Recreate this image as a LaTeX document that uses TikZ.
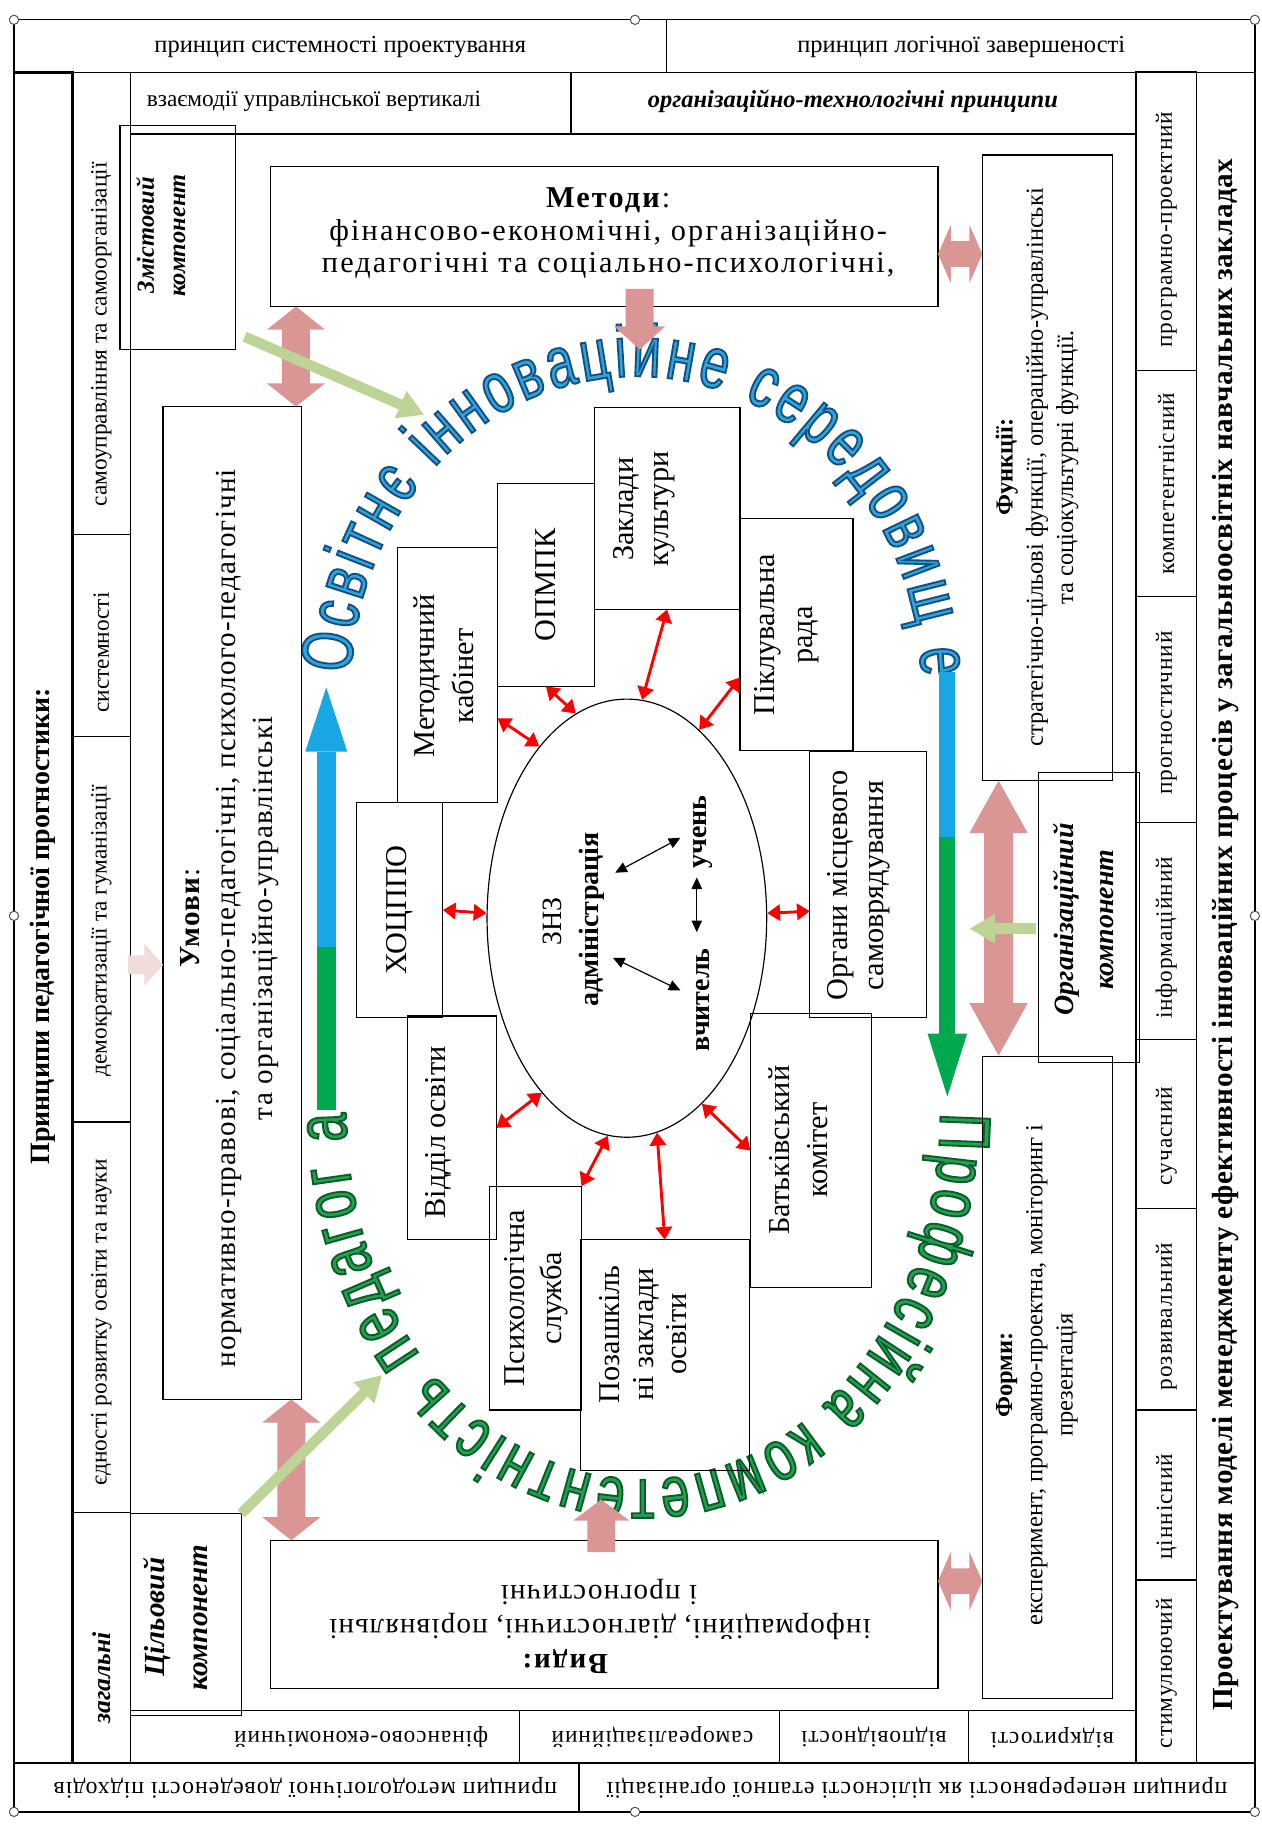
\documentclass[tikz,border=0pt]{standalone}
\usepackage{fontspec}
\setmainfont{Liberation Serif}
\newfontfamily\lsfont[LetterSpace=7]{Liberation Serif}
\newfontfamily\lsfontb[LetterSpace=4]{Liberation Serif}
\newfontfamily\lsfontc[LetterSpace=2]{Liberation Serif}
\newfontfamily\arcfont[FakeStretch=0.70]{Liberation Sans}
\usetikzlibrary{shapes.geometric,arrows.meta,decorations.text,calc}
\definecolor{pinkA}{RGB}{217,150,148}
\definecolor{pinkL}{RGB}{242,220,219}
\definecolor{greenL}{RGB}{190,212,150}
\definecolor{blueA}{RGB}{24,166,228}
\definecolor{greenA}{RGB}{0,168,80}
\definecolor{arcBlueF}{RGB}{45,165,220}
\definecolor{arcGreenF}{RGB}{35,160,80}
\newcommand\fsz[2]{\fontsize{#1}{#2}\selectfont}
\newcommand\outlB{\special{pdf:literal direct 2 Tr 1.6 w 0.08 0.31 0.51 RG}}
\newcommand\outlG{\special{pdf:literal direct 2 Tr 1.6 w 0.04 0.36 0.16 RG}}
% vertical double block arrow: x, ytop, ybottom, shaft half, head half, head length, style
\newcommand\vdarr[7]{\fill[#7] ({#1-#4},{#2+#6}) -- ({#1-#5},{#2+#6}) -- (#1,#2) -- ({#1+#5},{#2+#6}) -- ({#1+#4},{#2+#6}) -- ({#1+#4},{#3-#6}) -- ({#1+#5},{#3-#6}) -- (#1,#3) -- ({#1-#5},{#3-#6}) -- ({#1-#4},{#3-#6}) -- cycle;}
% horizontal double block arrow: y, xleft, xright, shaft half, head half, head length, style
\newcommand\hdarr[7]{\fill[#7] ({#2+#6},{#1-#4}) -- ({#2+#6},{#1-#5}) -- (#2,#1) -- ({#2+#6},{#1+#5}) -- ({#2+#6},{#1+#4}) -- ({#3-#6},{#1+#4}) -- ({#3-#6},{#1+#5}) -- (#3,#1) -- ({#3-#6},{#1-#5}) -- ({#3-#6},{#1-#4}) -- cycle;}
% vertical single block arrow: x, ytail, ytip, shaft half, head half, signed head length, style
\newcommand\vsarr[7]{\fill[#7] ({#1-#4},#2) -- ({#1-#4},{#3-(#6)}) -- ({#1-#5},{#3-(#6)}) -- (#1,#3) -- ({#1+#5},{#3-(#6)}) -- ({#1+#4},{#3-(#6)}) -- ({#1+#4},#2) -- cycle;}
\begin{document}
\begin{tikzpicture}[x=1pt,y=-1pt,
  box/.style={draw, line width=1.1pt, inner sep=0pt, outer sep=0pt},
  bx/.style n args={4}{minimum width={#3-#1}, minimum height={#4-#2}, at={({(#1+#3)/2},{(#2+#4)/2})}},
  txt/.style={inner sep=0pt, outer sep=0pt, align=center},
  redarr/.style={draw=red, line width=2.5pt, {Triangle[length=11pt,width=14pt]}-{Triangle[length=11pt,width=14pt]}},
  blkarr/.style={draw=black, line width=1pt, {Triangle[length=10pt,width=9pt]}-{Triangle[length=10pt,width=9pt]}},
  grarr/.style={draw=greenL, line width=9pt, -{Triangle[length=22pt,width=24pt]}},
  handle/.style={circle, draw=black!70, fill=white, line width=0.8pt, minimum size=8pt, inner sep=0pt},
  pinkfill/.style={fill=pinkA},
]
\fill[white] (0,0) rectangle (1083,1568);
\useasboundingbox (0,0) rectangle (1083,1568);

% ---------- curved texts ----------
\path[decorate, decoration={text along path, text align={fit to path},
   text={|\arcfont\fsz{62}{64}\color{arcBlueF}\outlB|Освітнє інноваційне середовищ е}}]
   plot[domain=182.6:358, samples=100] ({546+245*cos(\x)},{590+267*sin(\x)});
\path[decorate, decoration={text along path, text align={fit to path},
   text={|\arcfont\fsz{62}{64}\color{arcGreenF}\outlG|Професійна компетентність педагог а}}]
   plot[domain=0:180, samples=100] ({552+255*cos(\x)},{955+315*sin(\x)});

% ---------- frame ----------
\node[box, bx={12}{17}{1077}{1555}] (frame) {};
\node[box, bx={12}{17}{572}{62}] (tb1) {};
\node[box, bx={572}{17}{1077}{62}] (tb2) {};
\node[txt, font=\fsz{21}{25}] (tb1t) at (292,40) {принцип системності проектування};
\node[txt, font=\fsz{21}{25}] (tb2t) at (825,40) {принцип логічної завершеності};

\node[box, bx={12}{62}{62}{1513}] (lc1) {};
\draw[line width=2.4pt] (lc1.north west) -- (lc1.north east) -- (lc1.south east);
\node[txt, rotate=90, font=\bfseries\fsz{24}{28}] (lc1t) at (37,795) {Принципи педагогічної прогностики:};

\node[box, bx={62}{62}{112}{459}] (c2a) {};
\node[box, bx={62}{459}{112}{632}] (c2b) {};
\node[box, bx={62}{632}{112}{963}] (c2c) {};
\node[box, bx={62}{963}{112}{1298}] (c2d) {};
\node[box, bx={62}{1298}{112}{1513}] (c2e) {};
\node[txt, rotate=90, font=\fsz{20}{24}] (c2at) at (87,287) {самоуправління та самоорганізації};
\node[txt, rotate=90, font=\fsz{20}{24}] (c2bt) at (87,560) {системності};
\node[txt, rotate=90, font=\fsz{20}{24}] (c2ct) at (87,799) {демократизації та гуманізації};
\node[txt, rotate=90, font=\fsz{20}{24}] (c2dt) at (87,1135) {єдності розвитку освіти та науки};
\node[txt, rotate=90, font=\bfseries\itshape\fsz{22}{26}] (c2et) at (87,1440) {загальні};

\node[box, bx={112}{62}{490}{115}] (r2a) {};
\node[box, bx={490}{62}{975}{115}] (r2b) {};
\node[txt, anchor=west, font=\fsz{20}{24}] (r2at) at (126,87) {взаємодії управлінської вертикалі};
\node[txt, font=\bfseries\itshape\fsz{21}{25}] (r2bt) at (732,87) {організаційно-технологічні принципи};

% right inner column
\node[box, bx={975}{62}{1027}{318}] (rc1) {};
\node[box, bx={975}{318}{1027}{512}] (rc2) {};
\node[box, bx={975}{512}{1027}{706}] (rc3) {};
\node[box, bx={975}{706}{1027}{892}] (rc4) {};
\node[box, bx={975}{892}{1027}{1037}] (rc5) {};
\node[box, bx={975}{1037}{1027}{1210}] (rc6) {};
\node[box, bx={975}{1210}{1027}{1356}] (rc7) {};
\node[box, bx={975}{1356}{1027}{1513}] (rc8) {};
\draw[line width=2pt] (rc1.north east) -- (rc1.north west) -- (rc8.south west) -- (rc8.south east);
\node[txt, rotate=90, font=\lsfontb\fsz{20}{24}] (rc1t) at (1001,197) {програмно-проектний};
\node[txt, rotate=90, font=\lsfontb\fsz{20}{24}] (rc2t) at (1001,415) {компетентнісний};
\node[txt, rotate=90, font=\lsfontb\fsz{20}{24}] (rc3t) at (1001,612) {прогностичний};
\node[txt, rotate=90, font=\lsfontb\fsz{20}{24}] (rc4t) at (1001,805) {інформаційний};
\node[txt, rotate=90, font=\lsfontb\fsz{20}{24}] (rc5t) at (1001,975) {сучасний};
\node[txt, rotate=90, font=\lsfontb\fsz{20}{24}] (rc6t) at (1001,1130) {розвивальний};
\node[txt, rotate=90, font=\lsfontb\fsz{20}{24}] (rc7t) at (1001,1293) {ціннісний};
\node[txt, rotate=90, font=\lsfontb\fsz{20}{24}] (rc8t) at (1001,1436) {стимулюючий};

\node[box, bx={1027}{62}{1077}{1513}] (roc) {};
\node[txt, rotate=90, font=\lsfontc\bfseries\fsz{25}{29}] (roct) at (1052,802) {Проектування моделі менеджменту ефективності інноваційних процесів у загальноосвітніх навчальних закладах};

% bottom row
\node[box, bx={112}{1468}{446}{1513}] (br1) {};
\node[box, bx={446}{1468}{669}{1513}] (br2) {};
\node[box, bx={669}{1468}{831}{1513}] (br3) {};
\node[box, bx={831}{1468}{975}{1513}] (br4) {};
\draw[line width=2pt] (br1.south west) -- (br4.south east);
\node[txt, rotate=180, font=\lsfontb\fsz{20}{24}] (br1t) at (310,1491) {фінансово-економічний};
\node[txt, rotate=180, font=\lsfontb\fsz{20}{24}] (br2t) at (560,1491) {самореалізаційний};
\node[txt, rotate=180, font=\lsfontb\fsz{20}{24}] (br3t) at (750,1491) {відповідності};
\node[txt, rotate=180, font=\lsfontb\fsz{20}{24}] (br4t) at (903,1491) {відкритості};

% bottom band
\node[box, bx={12}{1513}{497}{1555}] (bb1) {};
\node[box, bx={497}{1513}{1077}{1555}] (bb2) {};
\node[txt, rotate=180, font=\lsfontb\fsz{20.5}{24}] (bb1t) at (262,1534) {принцип методологічної доведеності підходів};
\node[txt, rotate=180, font=\lsfontb\fsz{20.5}{24}] (bb2t) at (787,1534) {принцип неперервності як цілісності етапної організації};

% ---------- component boxes ----------
\node[box, bx={103}{108}{202}{300}] (zmist) {};
\node[txt, rotate=90, font=\bfseries\itshape\fsz{21}{27}] (zmistt) at (138,202) {Змістовий\\компонент};
\node[box, bx={112}{1299}{207}{1472}] (cil) {};
\node[txt, rotate=90, font=\bfseries\itshape\fsz{25}{37}] (cilt) at (151,1388) {Цільовий\\компонент};
\node[box, bx={891}{663}{978}{912}] (org) {};
\node[txt, rotate=90, font=\bfseries\itshape\fsz{24}{35}] (orgt) at (930,789) {Організаційний\\компонент};

% ---------- main boxes ----------
\node[box, bx={232}{143}{805}{263}] (metody) {};
\node[txt, font=\lsfont\fsz{26}{28}] (metodyt) at (522,200) {\textbf{Методи}:\\фінансово-економічні, організаційно-\\педагогічні та соціально-психологічні,};
\node[box, bx={843}{133}{955}{670}] (funk) {};
\node[txt, rotate=90, font=\fsz{21}{26}] (funkt) at (890,401) {\textbf{Функції:}\\стратегічно-цільові функції, операційно-управлінські\\та соціокультурні функції.};
\node[box, bx={843}{907}{955}{1458}] (formy) {};
\node[txt, rotate=90, font=\fsz{21}{26}] (formyt) at (890,1180) {\textbf{Форми:}\\експеримент, програмно-проектна, моніторинг і\\презентація};
\node[box, bx={232}{1322}{805}{1449}] (vydy) {};
\node[txt, rotate=180, font=\lsfont\bfseries\fsz{25}{28}] (vydyt1) at (485,1426) {Види:};
\node[txt, rotate=180, font=\lsfontb\fsz{25}{28}] (vydyt2) at (515,1396) {інформаційні, діагностичні, порівняльні};
\node[txt, rotate=180, font=\lsfontb\fsz{25}{28}] (vydyt3) at (514,1366) {і прогностичні};
\node[box, bx={140}{349}{259}{1201}] (umovy) {};
\node[txt, rotate=90, font=\lsfontb\fsz{25}{31.5}] (umovyt) at (197,788) {\textbf{Умови}:\\нормативно-правові, соціально-педагогічні, психолого-педагогічні\\та організаційно-управлінські};

% ---------- centre ----------
\node[box, bx={306}{689}{380}{873}] (xoc) {};
\node[txt, rotate=90, font=\fsz{26}{30}] (xoct) at (343,781) {ХОЦППО};
\node[box, bx={341}{470}{427}{689}] (metk) {};
\node[txt, rotate=90, font=\fsz{26}{33}] (metkt) at (381,580) {Методичний\\кабінет};
\node[box, bx={427}{415}{510}{589}] (opmpk) {};
\node[txt, rotate=90, font=\fsz{26}{30}] (opmpkt) at (468,502) {ОПМПК};
\node[box, bx={510}{350}{635}{523}] (zakl) {};
\node[txt, rotate=90, font=\fsz{26}{30}] (zaklt) at (553,437) {Заклади\\культури};
\node[box, bx={635}{445}{732}{644}] (pikl) {};
\node[txt, rotate=90, font=\fsz{26}{33}] (piklt) at (675,545) {Піклувальна\\рада};
\node[box, bx={695}{645}{795}{873}] (organy) {};
\node[txt, rotate=90, font=\fsz{26}{31}] (organyt) at (737,760) {Органи місцевого\\самоврядування};
\node[box, bx={350}{872}{426}{1064}] (viddil) {};
\node[txt, rotate=90, font=\fsz{26}{30}] (viddilt) at (376,972) {Відділ освіти};
\node[box, bx={420}{1018}{499}{1210}] (psych) {};
\node[txt, rotate=90, font=\fsz{26}{32}] (psycht) at (460,1114) {Психологічна\\служба};
\node[box, bx={498}{1064}{643}{1262}] (pozash) {};
\node[txt, rotate=90, font=\fsz{26}{29}] (pozasht) at (552,1145) {Позашкіль\\ні заклади\\освіти};
\node[box, bx={644}{870}{748}{1105}] (batk) {};
\node[txt, rotate=90, font=\fsz{26}{33}] (batkt) at (685,987) {Батьківський\\комітет};

\node[draw, ellipse, line width=1pt, minimum width=240pt, minimum height=376pt, inner sep=0pt] (znz) at (538,788) {};
\node[txt, rotate=90, font=\fsz{24}{28}] (znzt) at (474,791) {ЗНЗ};
\node[txt, rotate=90, font=\bfseries\fsz{24}{28}] (adm) at (508,789) {адміністрація};
\node[txt, rotate=90, font=\bfseries\fsz{24}{28}] (uch) at (603,714) {учень};
\node[txt, rotate=90, font=\bfseries\fsz{24}{28}] (vch) at (603,858) {вчитель};
\coordinate (ba1) at (528,749); \coordinate (ba2) at (584,719);
\coordinate (bb1c) at (526,822); \coordinate (bb2c) at (584,850);
\coordinate (bc1) at (598,753); \coordinate (bc2) at (598,800);
\draw[blkarr] (ba1) -- (ba2);
\draw[blkarr] (bb1c) -- (bb2c);
\draw[blkarr] (bc1) -- (bc2);

% red arrows
\draw[redarr] (xoc.east) -- (znz.178);
\draw[redarr] ($(organy.west)+(0,23)$) -- (znz.2);
\draw[redarr] ($(metk.east)+(0,37)$) -- (znz.117);
\draw[redarr] (opmpk.south) -- (znz.104);
\draw[redarr] (zakl.south) -- (znz.86);
\draw[redarr] ($(pikl.west)+(0,37)$) -- (znz.69.5);
\draw[redarr] (viddil.east) -- (znz.244);
\draw[redarr] (psych.north east) -- (znz.265);
\draw[redarr] (pozash.north) -- (znz.278);
\draw[redarr] (batk.west) -- (znz.292.5);

% ---------- pink block arrows ----------
\vdarr{254}{263}{349}{12}{25}{20}{pinkfill}
\vdarr{250}{1201}{1322}{12}{25}{20}{pinkfill}
\vdarr{857}{670}{906}{12.5}{25}{45}{pinkfill}
\hdarr{218}{805}{843}{11}{25}{11}{pinkfill}
\hdarr{1357}{805}{843}{11}{25}{11}{pinkfill}
\vsarr{549}{248}{300}{12}{22}{20}{pinkfill}
\vsarr{516}{1332}{1287}{12}{24}{-18}{pinkfill}
\fill[pinkL] (110,820) -- (124,820) -- (124,810) -- (140,828) -- (124,846) -- (124,836) -- (110,836) -- cycle;

% ---------- blue / green arrows ----------
\fill[greenA] (272,813) rectangle (288,953);
\fill[blueA] (272,645) rectangle (288,813);
\fill[blueA] (262,645) -- (280,590) -- (298,645) -- cycle;
\fill[blueA] (806,577) rectangle (820,718);
\fill[greenA] (806,718) rectangle (820,887);
\fill[greenA] (796,887) -- (813,941) -- (830,887) -- cycle;

% ---------- light green arrows ----------
\coordinate (g1s) at (210,289); \coordinate (g1e) at (364,356);
\coordinate (g2e) at (328,1180);
\coordinate (g3s) at (889,797); \coordinate (g3e) at (832,797);
\draw[grarr] (g1s) -- (g1e);
\draw[grarr] (cil.north east) -- (g2e);
\draw[grarr] (g3s) -- (g3e);

% ---------- handles ----------
\node[handle] (h1) at (12,17) {};
\node[handle] (h2) at (545,17) {};
\node[handle] (h3) at (1077,17) {};
\node[handle] (h4) at (12,786) {};
\node[handle] (h5) at (1077,786) {};
\node[handle] (h6) at (12,1555) {};
\node[handle] (h7) at (545,1555) {};
\node[handle] (h8) at (1077,1555) {};
\end{tikzpicture}
\end{document}
